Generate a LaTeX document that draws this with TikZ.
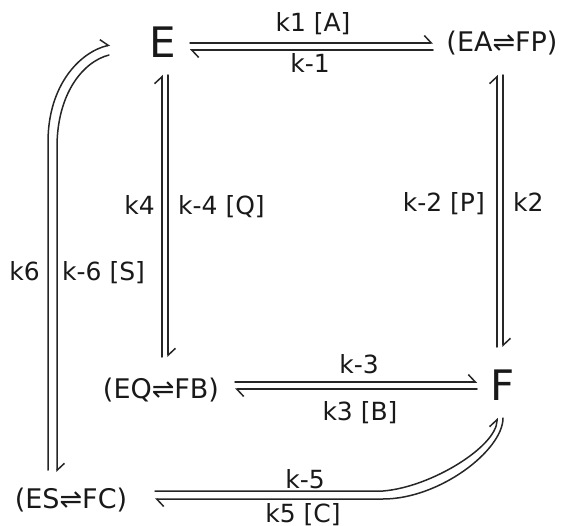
\documentclass[tikz,border=0pt]{standalone}
\usepackage{fontspec}
\setmainfont{DejaVu Sans}
\usetikzlibrary{arrows.meta}
\begin{document}
\begin{tikzpicture}[x=1pt,y=-1pt,
  ln/.style={line width=1.5pt, draw=black!85, line cap=round},
  hp/.style={ln, -{Straight Barb[harpoon, length=7pt, width=15pt]}},
  big/.style={font=\fontsize{42}{50}\selectfont, inner sep=0pt, anchor=base, text=black!90},
  sp/.style={font=\fontsize{27}{32}\selectfont, inner sep=0pt, anchor=base, text=black!90},
  lab/.style={font=\fontsize{25}{30}\selectfont, inner sep=0pt, text=black!90}]
\useasboundingbox (0,0) rectangle (561,526);
% species
\node[big] (E) at (163,58) {E};
\node[sp] (EAFP) at (502,52) {(EA⇌FP)};
\node[sp] (EQFB) at (161,398) {(EQ⇌FB)};
\node[big] (F) at (503,400) {F};
\node[sp] (ESFC) at (71,508) {(ES⇌FC)};
% labels
\node[lab, anchor=base] (l1) at (313,32) {k1 [A]};
\node[lab, anchor=base] (lm1) at (310,73) {k-1};
\node[lab, anchor=base east] (l4) at (155,215) {k4};
\node[lab, anchor=base west] (lm4) at (178,215) {k-4 [Q]};
\node[lab, anchor=base east] (lm2) at (485,212) {k-2 [P]};
\node[lab, anchor=base west] (l2) at (513,212) {k2};
\node[lab, anchor=base east] (l6) at (40,280) {k6};
\node[lab, anchor=base west] (lm6) at (62,280) {k-6 [S]};
\node[lab, anchor=base] (lm3) at (359,373) {k-3};
\node[lab, anchor=base] (l3) at (360,420) {k3 [B]};
\node[lab, anchor=base] (lm5) at (305,488) {k-5};
\node[lab, anchor=base] (l5) at (303,522) {k5 [C]};
% E <-> EAFP
\draw[hp] ([shift={(27,-15)}]E.base) -- ([shift={(-69,-9)}]EAFP.base);
\draw[hp] ([shift={(-69,-2)}]EAFP.base) -- ([shift={(27,-8)}]E.base);
% E <-> EQFB
\draw[hp] ([shift={(1,-41)}]EQFB.base) -- ([shift={(-1,17)}]E.base);
\draw[hp] ([shift={(5,17)}]E.base) -- ([shift={(7,-41)}]EQFB.base);
% EAFP <-> F
\draw[hp] ([shift={(-6,-53)}]F.base) -- ([shift={(-5,23)}]EAFP.base);
\draw[hp] ([shift={(1,23)}]EAFP.base) -- ([shift={(0,-53)}]F.base);
% EQFB <-> F
\draw[hp] ([shift={(74,-16)}]EQFB.base) -- ([shift={(-26,-18)}]F.base);
\draw[hp] ([shift={(-26,-11)}]F.base) -- ([shift={(74,-9)}]EQFB.base);
% ESFC <-> E
\draw[hp] ([shift={(-23,-38)}]ESFC.base) -- ++(0,-328)
  .. controls +(0,-57) and +(-30,7) .. ([shift={(-53,-13)}]E.base);
\draw[hp] ([shift={(-54,-3)}]E.base) .. controls +(-27,7) and +(0,-52) .. ++(-52,92)
  -- ([shift={(-14,-36)}]ESFC.base);
% ESFC <-> F
\draw[hp] ([shift={(84,-17)}]ESFC.base) -- ++(228,0)
  .. controls +(49,-4) and +(0,28) .. ([shift={(-6,18)}]F.base);
\draw[hp] ([shift={(0,18)}]F.base) .. controls +(0,32) and +(57,0) .. ++(-120,81)
  -- ([shift={(84,-9)}]ESFC.base);
\end{tikzpicture}
\end{document}
